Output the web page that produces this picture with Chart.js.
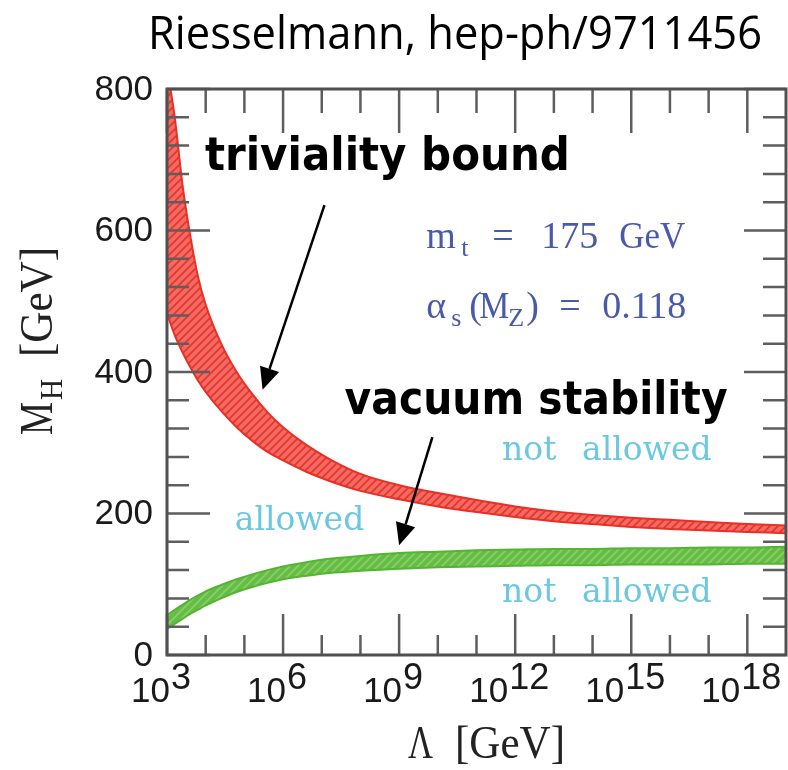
<!DOCTYPE html>
<html>
<head>
<meta charset="utf-8">
<script src="https://cdn.jsdelivr.net/npm/chart.js@4"></script>
<style>
  html, body { margin: 0; padding: 0; background: #fff; }
  canvas { display: block; }
</style>
</head>
<body>
<canvas id="higgsChart" width="788" height="770"></canvas>
<script>
// log10 of the cutoff scale Lambda [GeV], shared by all four edges
const lambdaExp = [3, 3.2, 3.4, 3.6, 3.8, 4, 4.4, 4.8, 5.2, 5.6, 6, 6.6, 7.2, 8, 9, 10, 11, 12, 13, 14, 15, 16, 17, 18, 19];

// triviality bound band, M_H in GeV
const trivUpper = [830, 760, 665, 593, 535, 495, 440, 400, 369, 343, 322, 297, 277, 256, 240, 229, 219, 210, 203, 198, 194, 191, 188, 185, 183];
const trivLower = [483, 452, 428, 407, 388, 372, 345, 322, 303, 287, 275, 259, 246, 232, 220, 210, 202, 195, 189, 185, 181, 178, 176, 174, 172];

// vacuum stability band, M_H in GeV
const vacUpper = [56, 64, 71, 78, 84, 90, 99, 107, 114, 120, 125, 131, 136, 140, 144, 146, 148, 149, 150, 150, 151, 151, 152, 152, 153];
const vacLower = [37, 44, 51, 58, 64, 70, 80, 89, 96, 102, 107, 112, 116, 119, 122, 124, 125, 126, 127, 127, 128, 128, 128, 129, 129];

// axis ticks
const xMajorExp = [3, 6, 9, 12, 15, 18];
const xMinorExp = [4, 5, 7, 8, 10, 11, 13, 14, 16, 17];
const yMajor = [0, 200, 400, 600, 800];
const yMinor = [40, 80, 120, 160, 240, 280, 320, 360, 440, 480, 520, 560, 640, 680, 720, 760];

// turn an exponent list + value list into {x, y} points
function toPoints(values) {
    return lambdaExp.map((e, i) => ({ x: Math.pow(10, e), y: values[i] }));
}

// small striped tile used to hatch the bands
function makeHatch(base, stripe) {
    const c = document.createElement('canvas');
    c.width = 8; c.height = 8;
    const g = c.getContext('2d');
    g.fillStyle = base;
    g.fillRect(0, 0, 8, 8);
    g.strokeStyle = stripe;
    g.lineWidth = 1.6;
    g.beginPath();
    g.moveTo(0, 8); g.lineTo(8, 0);
    g.moveTo(-2, 2); g.lineTo(2, -2);
    g.moveTo(6, 10); g.lineTo(10, 6);
    g.stroke();
    return g.createPattern(c, 'repeat');
}

const redEdge = 'rgb(232, 48, 38)';
const greenEdge = 'rgb(84, 180, 52)';
const redHatch = makeHatch('rgb(243, 106, 98)', 'rgb(228, 52, 44)');
const greenHatch = makeHatch('rgb(100, 190, 70)', 'rgb(142, 206, 104)');

function drawArrow(ctx, x0, y0, x1, y1) {
    const ang = Math.atan2(y1 - y0, x1 - x0);
    const len = 22, half = 10;
    const bx = x1 - len * Math.cos(ang), by = y1 - len * Math.sin(ang);
    ctx.strokeStyle = '#000';
    ctx.lineWidth = 2.5;
    ctx.beginPath();
    ctx.moveTo(x0, y0);
    ctx.lineTo(bx, by);
    ctx.stroke();
    ctx.fillStyle = '#000';
    ctx.beginPath();
    ctx.moveTo(x1, y1);
    ctx.lineTo(bx + half * Math.sin(ang), by - half * Math.cos(ang));
    ctx.lineTo(bx - half * Math.sin(ang), by + half * Math.cos(ang));
    ctx.closePath();
    ctx.fill();
}

// frame, inward ticks, labels and annotations
const decorations = {
    id: 'decorations',
    afterDatasetsDraw(chart) {
        const { ctx, chartArea: a, scales: { x, y } } = chart;
        const px = e => x.getPixelForValue(Math.pow(10, e));
        const py = m => y.getPixelForValue(m);

        ctx.save();

        // ticks on all four sides, pointing inwards
        ctx.strokeStyle = '#5e5e5e';
        ctx.lineWidth = 2.5;
        ctx.beginPath();
        xMajorExp.forEach(e => {
            const p = px(e);
            ctx.moveTo(p, a.bottom); ctx.lineTo(p, a.bottom - 41);
            ctx.moveTo(p, a.top); ctx.lineTo(p, a.top + 44);
        });
        xMinorExp.forEach(e => {
            const p = px(e);
            ctx.moveTo(p, a.bottom); ctx.lineTo(p, a.bottom - 20);
            ctx.moveTo(p, a.top); ctx.lineTo(p, a.top + 24);
        });
        yMajor.forEach(v => {
            const p = py(v);
            ctx.moveTo(a.left, p); ctx.lineTo(a.left + 43, p);
            ctx.moveTo(a.right, p); ctx.lineTo(a.right - 42, p);
        });
        yMinor.forEach(v => {
            const p = py(v);
            ctx.moveTo(a.left, p); ctx.lineTo(a.left + 22, p);
            ctx.moveTo(a.right, p); ctx.lineTo(a.right - 23, p);
        });
        ctx.stroke();

        // frame
        ctx.strokeStyle = '#505050';
        ctx.lineWidth = 3;
        ctx.strokeRect(a.left, a.top, a.right - a.left, a.bottom - a.top);

        // y tick labels
        ctx.fillStyle = '#1a1a1a';
        ctx.font = '35px "Liberation Sans"';
        ctx.textAlign = 'right';
        ctx.textBaseline = 'middle';
        yMajor.forEach(v => ctx.fillText(String(v), a.left - 14, py(v) + 1));

        // x tick labels: 10 with a raised exponent
        ctx.textAlign = 'left';
        ctx.textBaseline = 'alphabetic';
        xMajorExp.forEach(e => {
            ctx.font = '35px "Liberation Sans"';
            const wBase = ctx.measureText('10').width;
            ctx.font = '36px "Liberation Sans"';
            const wExp = ctx.measureText(String(e)).width;
            const gap = 1;
            const total = wBase + gap + wExp;
            const left = px(e) - 6 - total / 2;
            ctx.font = '35px "Liberation Sans"';
            ctx.fillText('10', left, a.bottom + 47);
            ctx.font = '36px "Liberation Sans"';
            ctx.fillText(String(e), left + wBase + gap, a.bottom + 34);
        });

        // axis titles
        ctx.fillStyle = '#222';
        ctx.font = '46px "Liberation Serif"';
        ctx.fillText('\u039B', 408, 758, 25);
        ctx.fillText('[GeV]', 455, 758, 110);

        ctx.save();
        ctx.translate(52, 435);
        ctx.rotate(-Math.PI / 2);
        ctx.font = '46px "Liberation Serif"';
        ctx.fillText('M', 0, 0, 33);
        ctx.font = '32px "Liberation Serif"';
        ctx.fillText('H', 35, 10, 21);
        ctx.font = '46px "Liberation Serif"';
        ctx.fillText('[GeV]', 78, 0, 110);
        ctx.restore();

        // big annotations
        ctx.fillStyle = '#000';
        ctx.font = 'bold 46px "DejaVu Sans"';
        ctx.fillText('triviality bound', px(3.98), py(685), 365);
        ctx.fillText('vacuum stability', px(7.59), py(340), 383);

        drawArrow(ctx, px(7.07), py(636), px(5.47), py(375));
        drawArrow(ctx, px(9.86), py(308), px(9.0), py(155));

        // parameters in blue
        ctx.fillStyle = 'rgb(74, 90, 170)';
        let ax = px(9.70), ay = py(575);
        ctx.font = '38px "Liberation Serif"';
        ctx.fillText('m', ax, ay, 34);
        ctx.font = '26px "Liberation Serif"';
        ctx.fillText('t', ax + 35, ay + 8);
        ctx.font = '38px "Liberation Serif"';
        ctx.fillText('=', ax + 66, ay);
        ctx.fillText('175', ax + 115, ay);
        ctx.fillText('GeV', ax + 193, ay, 66);

        ay = py(476);
        ctx.fillText('\u03B1', ax, ay);
        ctx.font = '26px "Liberation Serif"';
        ctx.fillText('s', ax + 25, ay + 8);
        ctx.font = '38px "Liberation Serif"';
        ctx.fillText('(', ax + 43, ay);
        ctx.fillText('M', ax + 53, ay, 30);
        ctx.font = '26px "Liberation Serif"';
        ctx.fillText('Z', ax + 82, ay + 8);
        ctx.font = '38px "Liberation Serif"';
        ctx.fillText(')', ax + 100, ay);
        ctx.fillText('=', ax + 133, ay);
        ctx.fillText('0.118', ax + 176, ay, 95);

        // allowed / not allowed regions
        ctx.fillStyle = 'rgb(108, 200, 224)';
        ctx.font = '33px "DejaVu Serif"';
        ctx.fillText('allowed', px(4.75), py(177), 130);
        [276, 75].forEach(m => {
            ctx.fillText('not', px(11.66), py(m), 60);
            ctx.fillText('allowed', px(11.66) + 80, py(m), 134);
        });

        ctx.restore();
    },
    afterDraw(chart) {
        const ctx = chart.ctx;
        ctx.save();
        ctx.fillStyle = '#000';
        ctx.font = '46px "Open Sans"';
        ctx.textAlign = 'center';
        ctx.textBaseline = 'alphabetic';
        ctx.fillText('Riesselmann, hep-ph/9711456', 455, 49, 614);
        ctx.restore();
    }
};

new Chart(document.getElementById('higgsChart'), {
    type: 'line',
    data: {
        datasets: [
            { data: toPoints(trivLower), borderColor: redEdge, fill: false },
            { data: toPoints(trivUpper), borderColor: redEdge, fill: '-1', backgroundColor: redHatch },
            { data: toPoints(vacLower), borderColor: greenEdge, fill: false },
            { data: toPoints(vacUpper), borderColor: greenEdge, fill: '-1', backgroundColor: greenHatch }
        ]
    },
    options: {
        responsive: false,
        animation: false,
        layout: { padding: { left: 167, top: 89, right: 2, bottom: 115 } },
        elements: {
            point: { radius: 0 },
            line: { borderWidth: 2, cubicInterpolationMode: 'monotone' }
        },
        scales: {
            x: { type: 'logarithmic', min: 1e3, max: 1e19, display: false },
            y: { type: 'linear', min: 0, max: 800, display: false }
        },
        plugins: {
            legend: { display: false },
            tooltip: { enabled: false }
        }
    },
    plugins: [decorations]
});
</script>
</body>
</html>
